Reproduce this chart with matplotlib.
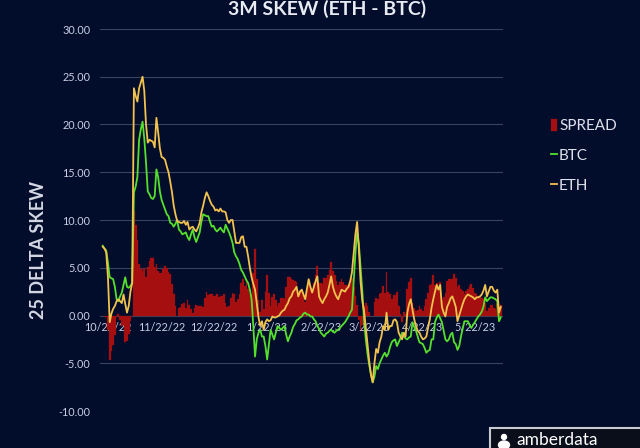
import matplotlib.pyplot as plt
import matplotlib.dates as mdates
from matplotlib.ticker import FuncFormatter
from matplotlib.patches import Rectangle, Ellipse
import numpy as np
import pandas as pd

plt.rcParams['font.family'] = ['Lato', 'DejaVu Sans']

# daily 3M 25-delta skew
start_date = "2022-10-19"
eth = [
    7.2, 7.0, 6.6, 4.0, -0.7, 0.2, 0.7, 1.0, 1.5, 1.7,
    1.5, 1.3, 2.2, 1.2, 0.3, 1.0, 2.5, 3.4, 23.8, 23.0,
    22.4, 23.8, 24.4, 25.0, 23.5, 20.0, 18.1, 18.4, 18.3, 18.2,
    17.6, 20.7, 19.2, 17.5, 16.6, 16.5, 16.3, 15.6, 15.0, 14.0,
    12.9, 11.5, 10.6, 9.9, 9.8, 9.7, 9.7, 9.9, 9.5, 9.8,
    9.0, 9.2, 9.3, 9.0, 8.8, 9.2, 9.7, 10.8, 11.5, 12.3,
    12.9, 12.5, 12.0, 11.6, 11.4, 11.0, 11.1, 10.9, 11.2, 10.9,
    10.9, 10.8, 10.0, 9.7, 10.0, 10.0, 8.8, 7.6, 7.6, 7.6,
    8.2, 8.3, 7.2, 7.2, 6.2, 5.0, 4.0, 3.3, 2.7, 1.3,
    -0.2, -1.1, -0.6, -1.5, -0.7, -0.4, -0.6, -0.5, -0.1, -0.2,
    -0.2, -0.1, 0.0, 0.3, 0.5, 0.6, 1.0, 1.3, 1.8, 2.0,
    2.5, 2.7, 3.0, 2.0, 2.5, 2.7, 2.2, 1.7, 2.8, 3.8,
    3.0, 2.4, 3.0, 3.6, 4.1, 2.0, 1.6, 1.3, 1.7, 2.0,
    2.4, 3.2, 4.1, 3.0, 2.4, 2.0, 1.7, 2.2, 2.7, 2.6,
    2.5, 2.8, 3.0, 3.6, 4.5, 6.5, 8.5, 9.8, 7.0, 3.5,
    1.5, 0.5, -1.2, -3.0, -4.8, -6.2, -7.0, -5.0, -3.5, -3.9,
    -2.8, -2.2, -1.1, -1.5, 0.3, -1.5, -1.1, -1.1, -0.5, -0.4,
    -0.7, -1.8, -2.2, -2.5, -1.8, -2.2, 0.3, 1.2, 1.7, 0.6,
    -0.4, -1.1, -1.6, -1.8, -2.2, -2.5, -2.4, -2.2, -1.3, -0.4,
    0.8, 1.7, 2.5, 3.2, 2.7, 3.2, 0.9, 0.3, -0.1, 0.9,
    1.3, 1.8, 2.0, 1.5, 0.9, -0.6, 0.0, 0.6, 1.2, 1.7,
    2.0, 2.2, 2.1, 2.0, 1.9, 1.7, 1.9, 1.9, 2.0, 2.2,
    2.6, 3.2, 2.0, 2.5, 3.0, 3.0, 2.6, 2.4, 2.7, 0.3,
    0.9,
]
btc = [
    7.3, 7.0, 6.8, 5.5, 4.0, 3.9, 3.8, 3.0, 1.7, 1.5,
    2.0, 2.4, 3.2, 4.0, 3.0, 2.9, 3.1, 3.4, 12.9, 13.5,
    14.5, 18.4, 19.5, 20.3, 18.5, 16.0, 13.0, 12.7, 12.3, 12.2,
    12.5, 15.3, 14.5, 13.0, 12.1, 11.6, 11.1, 10.6, 10.4, 9.7,
    9.6, 9.3, 9.6, 10.0, 9.0, 8.8, 8.5, 8.6, 8.7, 8.2,
    7.9, 8.5, 9.0, 8.2, 7.7, 8.2, 8.7, 9.8, 10.6, 10.5,
    10.4, 10.4, 9.8, 9.3, 9.4, 9.0, 8.8, 9.0, 9.2, 8.9,
    8.7, 9.5, 9.1, 8.7, 8.2, 7.6, 6.6, 6.2, 5.9, 5.4,
    4.8, 4.5, 4.1, 3.7, 3.4, 2.7, 1.7, -1.1, -4.3, -2.5,
    -1.8, -1.5, -2.2, -2.2, -3.2, -4.6, -3.0, -1.5, -2.0, -2.5,
    -1.8, -1.1, -1.3, -1.5, -1.3, -1.1, -2.0, -2.7, -2.2, -1.8,
    -1.2, -0.9, -0.5, -0.4, -0.2, -0.1, 0.2, 0.3, 0.1, 0.1,
    -0.1, -0.1, -0.4, -0.6, -1.1, -1.4, -1.8, -2.0, -2.2, -1.9,
    -1.8, -1.6, -1.5, -1.7, -1.8, -1.6, -1.5, -1.3, -1.1, -0.9,
    -0.7, -0.4, -0.1, 0.3, 0.6, 3.5, 6.5, 8.7, 7.5, 5.0,
    2.5, -0.5, -2.5, -4.0, -5.2, -6.2, -7.0, -6.4, -5.3, -5.6,
    -5.0, -4.6, -4.2, -3.9, -4.3, -4.0, -3.3, -2.8, -2.6, -2.5,
    -3.2, -2.8, -2.4, -1.8, -2.2, -2.4, -2.5, -2.3, -2.2, -0.7,
    -1.2, -1.6, -2.2, -2.8, -2.9, -3.0, -3.4, -3.9, -3.7, -3.6,
    -2.5, -2.5, -0.7, -0.2, 0.1, -0.3, -0.7, -1.6, -2.5, -2.7,
    -2.5, -2.0, -1.8, -2.8, -3.0, -3.6, -3.2, -2.2, -1.4, -0.6,
    -0.6, -0.6, -1.0, -1.3, -1.0, -0.7, -0.4, -0.1, 0.1, 0.4,
    0.9, 1.9, 1.5, 1.7, 1.9, 1.9, 1.8, 1.7, 1.5, -0.6,
    -0.2,
]
y_ticks = [-10, -5, 0, 5, 10, 15, 20, 25, 30]
tick_day = 22

dates = pd.date_range(start_date, periods=len(eth), freq="D")
spread = np.array(eth) - np.array(btc)

bg = "#020d2c"
txt = "#c9cee3"
W, H = 640, 448

fig = plt.figure(figsize=(6.4, 4.48), dpi=100, facecolor=bg)
ax = fig.add_axes([100 / W, 1 - 411 / H, 403 / W, (411 - 29) / H])
ax.set_facecolor(bg)

bars = ax.bar(dates, spread, width=1.0, color="#a50f0f", edgecolor="#a50f0f",
              lw=0.2, label="SPREAD", zorder=2)
l_btc, = ax.plot(dates, btc, color="#55e02c", lw=1.3, label="BTC", zorder=3)
l_eth, = ax.plot(dates, eth, color="#f2c24e", lw=1.3, label="ETH", zorder=4)

ax.set_ylim(-10, 30)
ax.set_yticks(y_ticks)
ax.yaxis.set_major_formatter(FuncFormatter(lambda v, p: f"{v:.2f}"))
ax.grid(axis="y", color="#38435f", lw=0.8, zorder=0)
ax.set_axisbelow(True)

ax.set_xlim(dates[0] - pd.Timedelta(days=1.6), dates[-1] + pd.Timedelta(days=1.3))
ax.xaxis.set_major_locator(mdates.DayLocator(bymonthday=tick_day))

def date_label(v, p):
    d = mdates.num2date(v)
    return f"{d.month}/{d.day}/{d:%y}"

ax.xaxis.set_major_formatter(FuncFormatter(date_label))

for s in ["left", "right", "top"]:
    ax.spines[s].set_visible(False)
ax.spines["bottom"].set_position(("data", 0))
ax.spines["bottom"].set_color("none")
ax.tick_params(axis="both", length=0, labelcolor=txt, labelsize=7.8)
ax.tick_params(axis="x", pad=5)
ax.tick_params(axis="y", pad=7)

fig.text(327 / W, 1 - 15 / H, "3M SKEW (ETH - BTC)", fontsize=14,
         weight="bold", color="#e8eaf2", ha="center", va="baseline")
fig.text(38 / W, 1 - 250 / H, "25 DELTA SKEW", rotation=90, fontsize=13,
         weight="bold", color="#d5d8e4", ha="center", va="center")

leg = ax.legend(handles=[bars, l_btc, l_eth], loc="upper left",
                bbox_to_anchor=(543 / W, 1 - 111 / H),
                bbox_transform=fig.transFigure, frameon=False, fontsize=11,
                labelspacing=1.0, handlelength=0.4, handletextpad=0.15,
                borderpad=0, handleheight=0.9)
for t in leg.get_texts():
    t.set_color("#dde0ea")

# amberdata badge at bottom right
fig.add_artist(Rectangle((490 / W, -0.01), 160 / W, 20 / H + 0.01,
                         transform=fig.transFigure, facecolor="#0a0e1a",
                         edgecolor="#c8cad2", lw=1.5))
fig.add_artist(Ellipse((504 / W, 1 - 437 / H), 5 / W, 5 / H,
                       transform=fig.transFigure, color="white"))
fig.add_artist(Ellipse((504 / W, 1 - 445 / H), 11 / W, 8 / H,
                       transform=fig.transFigure, color="white"))
fig.text(516 / W, 3 / H, "amberdata", fontsize=12.5, color="white",
         ha="left", va="baseline")

fig.savefig("out.png", dpi=100, facecolor=bg)
